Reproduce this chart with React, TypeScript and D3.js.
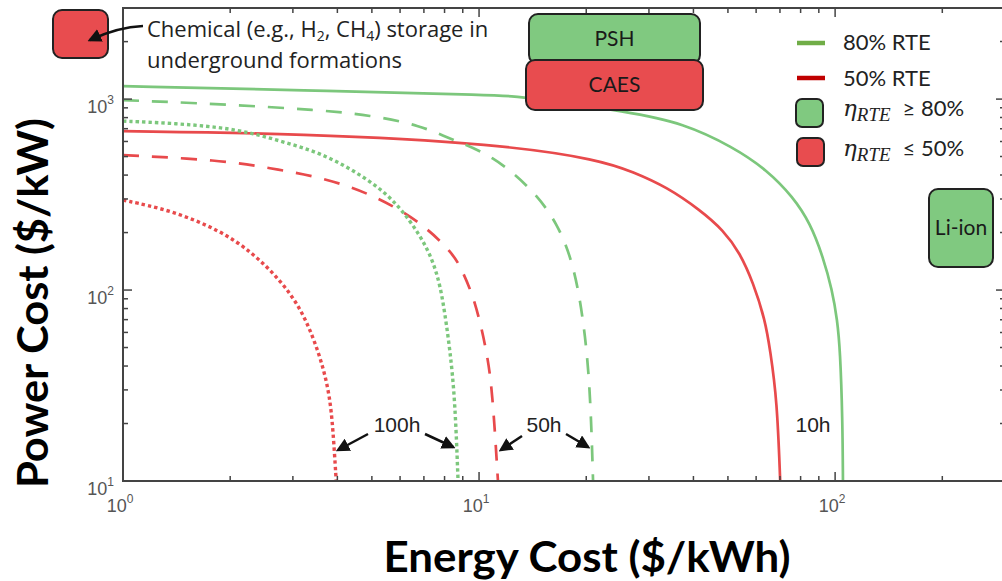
import React from 'react';
import * as d3 from 'd3';

const W = 1002;
const H = 581;
const margin = { left: 123, right: 1005, top: 8, bottom: 481 };

// axis domains (log scales)
const energyDomain = [1, 300];
const powerDomain = [10, 3000];

// 80% RTE curves: energy cost ($/kWh) vs power cost ($/kW)
const green10hE = [1, 3.14, 11.5, 13.6, 26.5, 37.4, 51.7, 64.4, 76.2, 85.1, 92.5, 98.1, 101.4, 103.3, 104.9, 105.2];
const green10hP = [1169, 1114, 1050, 1024, 855, 748, 561, 425, 307, 224, 149, 100, 69.7, 48.5, 20.9, 10];
const green50hE = [1, 1.87, 3.58, 4.94, 6.82, 8.45, 10.9, 14.2, 16.6, 18.4, 19.6, 20.5, 20.9];
const green50hP = [988, 942, 876, 824, 731, 610, 509, 334, 224, 138, 72.3, 32.6, 10];
const green100hE = [1, 1.36, 1.87, 2.32, 2.89, 3.58, 4.43, 5.52, 6.4, 7.14, 7.62, 7.92, 8.29, 8.56, 8.73];
const green100hP = [767, 749, 713, 663, 589, 522, 425, 322, 232, 168, 123, 88.7, 48.5, 26.5, 10];

// 50% RTE curves
const red10hE = [1, 3.14, 11.5, 21.9, 27.1, 33.7, 41.8, 48.5, 54.1, 58.9, 63.6, 65.7, 68.7, 70.1];
const red10hP = [679, 660, 582, 480, 415, 346, 262, 206, 156, 109, 69.7, 48.5, 26.5, 10];
const red50hE = [1, 1.87, 2.59, 3.58, 4.94, 6.82, 8.45, 8.96, 9.74, 10.5, 10.9, 11.3];
const red50hP = [509, 480, 435, 391, 322, 230, 156, 127, 88.7, 48.5, 29.9, 10];
const red100hE = [1, 1.36, 1.87, 2.32, 2.76, 3.14, 3.42, 3.65, 3.81, 3.89, 3.97];
const red100hP = [296, 262, 206, 156, 113, 81.4, 56.7, 39.5, 27.5, 18.5, 10];

const durationLabels = ['100h', '50h', '10h'];
const legendLabels = ['80% RTE', '50% RTE'];

const GREEN = '#7cc77c';
const RED = '#e84a4c';
const BOX_GREEN = '#80c980';
const BOX_RED = '#e84c4f';
const SANS = '"Liberation Sans", Arial, sans-serif';
const TITLE = 'Lato, "Open Sans", sans-serif';
const NOTE = '"Open Sans", Lato, sans-serif';

const zip = (e: number[], p: number[]) => e.map((v, i) => [v, p[i]] as [number, number]);

const DOT = '3.4 3';
const DASH = '16 13';
const series = [
  { pts: zip(green10hE, green10hP), color: GREEN, dash: null },
  { pts: zip(red10hE, red10hP), color: RED, dash: null },
  { pts: zip(green50hE, green50hP), color: GREEN, dash: DASH },
  { pts: zip(red50hE, red50hP), color: RED, dash: DASH },
  { pts: zip(green100hE, green100hP), color: GREEN, dash: DOT },
  { pts: zip(red100hE, red100hP), color: RED, dash: DOT },
];

function Box({ x, y, w, h, fill, label }: any) {
  return (
    <g>
      <rect x={x} y={y} width={w} height={h} rx={9} fill={fill} stroke="#222" strokeWidth={2} />
      {label && (
        <text x={x + w / 2} y={y + h / 2 + 7} textAnchor="middle" fontFamily={TITLE} fontSize={21} fill="#1a1a1a">
          {label}
        </text>
      )}
    </g>
  );
}

export default function App() {
  const x = d3.scaleLog().domain(energyDomain).range([margin.left, margin.right]);
  const y = d3.scaleLog().domain(powerDomain).range([margin.bottom, margin.top]);

  const line = d3
    .line<[number, number]>()
    .x((d) => x(d[0]))
    .y((d) => y(d[1]))
    .curve(d3.curveBasis);

  const isMajor = (v: number) => Math.abs(Math.log10(v) - Math.round(Math.log10(v))) < 1e-6;
  const xTicks = x.ticks().filter((v) => v > energyDomain[0] && v < energyDomain[1]);
  const yTicks = y.ticks().filter((v) => v > powerDomain[0] && v < powerDomain[1]);
  const xMajors = [1, 10, 100];
  const yMajors = [10, 100, 1000];

  const lastX = (arr: number[]) => x(arr[arr.length - 1]);

  return (
    <svg width={W} height={H} style={{ position: 'absolute', left: 0, top: 0, background: '#fff' }}>
      <defs>
        <clipPath id="plotclip">
          <rect x={margin.left} y={margin.top} width={margin.right - margin.left} height={margin.bottom - margin.top} />
        </clipPath>
        <marker id="arr" viewBox="0 0 10 10" refX={8} refY={5} markerWidth={5.5} markerHeight={5.5} orient="auto">
          <path d="M0,0 L10,5 L0,10 z" fill="#111" />
        </marker>
      </defs>
      <rect x={0} y={0} width={W} height={H} fill="#fff" />

      {/* curves */}
      <g clipPath="url(#plotclip)">
        {series.map((s, i) => (
          <path
            key={i}
            d={line(s.pts) || ''}
            fill="none"
            stroke={s.color}
            strokeWidth={s.dash === DOT ? 3.4 : 2.7}
            strokeDasharray={s.dash || undefined}
          />
        ))}
      </g>

      {/* frame and ticks */}
      <g stroke="#444" strokeWidth={1.5}>
        {xTicks.map((v, i) => {
          const len = isMajor(v) ? 9 : 5;
          return (
            <g key={'xt' + i}>
              <line x1={x(v)} x2={x(v)} y1={margin.bottom} y2={margin.bottom - len} />
              <line x1={x(v)} x2={x(v)} y1={margin.top} y2={margin.top + len} />
            </g>
          );
        })}
        {yTicks.map((v, i) => {
          const len = isMajor(v) ? 9 : 5;
          return (
            <g key={'yt' + i}>
              <line x1={margin.left} x2={margin.left + len} y1={y(v)} y2={y(v)} />
              <line x1={margin.right} x2={margin.right - len} y1={y(v)} y2={y(v)} />
            </g>
          );
        })}
      </g>
      <rect
        x={margin.left}
        y={margin.top}
        width={margin.right - margin.left}
        height={margin.bottom - margin.top}
        fill="none"
        stroke="#444"
        strokeWidth={2}
      />

      {/* tick labels */}
      <g fontFamily={SANS} fill="#555">
        {xMajors.map((v) => (
          <text key={'xl' + v} x={x(v) - 3} y={margin.bottom + 31} textAnchor="middle" fontSize={18}>
            10
            <tspan fontSize={12} dy={-9}>{Math.round(Math.log10(v))}</tspan>
          </text>
        ))}
        {yMajors.map((v) => (
          <text key={'yl' + v} x={114} y={y(v) + 14} textAnchor="end" fontSize={18}>
            10
            <tspan fontSize={12} dy={-9}>{Math.round(Math.log10(v))}</tspan>
          </text>
        ))}
      </g>

      {/* axis titles */}
      <text x={587} y={572} textAnchor="middle" fontFamily={TITLE} fontWeight="bold" fontSize={42} textLength={407} lengthAdjust="spacingAndGlyphs" fill="#000">
        Energy Cost ($/kWh)
      </text>
      <text
        transform="translate(48,303) rotate(-90)"
        textAnchor="middle"
        fontFamily={TITLE}
        fontWeight="bold"
        fontSize={42}
        textLength={370}
        lengthAdjust="spacingAndGlyphs"
        fill="#000"
      >
        Power Cost ($/kW)
      </text>

      {/* technology boxes */}
      <Box x={529} y={14} w={171} h={50} fill={BOX_GREEN} label="PSH" />
      <Box x={526} y={60} w={177} h={50} fill={BOX_RED} label="CAES" />
      <Box x={929} y={189} w={64} h={78} fill={BOX_GREEN} label="Li-ion" />
      <Box x={53} y={10} w={55} h={48} fill={BOX_RED} label="" />

      {/* chemical storage note */}
      <path d="M143,26 Q118,27 90,40" fill="none" stroke="#111" strokeWidth={2.5} markerEnd="url(#arr)" />
      <g fontFamily={NOTE} fontSize={22} fill="#222">
        <text x={147} y={37}>
          Chemical (e.g., H
          <tspan fontSize={14} dy={4}>2</tspan>
          <tspan dy={-4}>, CH</tspan>
          <tspan fontSize={14} dy={4}>4</tspan>
          <tspan dy={-4}>) storage in</tspan>
        </text>
        <text x={147} y={68}>underground formations</text>
      </g>

      {/* legend */}
      <g fontFamily={TITLE} fontSize={22} fill="#222">
        <line x1={797} x2={825} y1={43} y2={43} stroke="#70ad47" strokeWidth={4.5} />
        <text x={843} y={50}>{legendLabels[0]}</text>
        <line x1={797} x2={825} y1={78} y2={78} stroke="#c00000" strokeWidth={4.5} />
        <text x={843} y={86}>{legendLabels[1]}</text>
        <rect x={796} y={99} width={27} height={28} rx={6} fill={BOX_GREEN} stroke="#222" strokeWidth={2} />
        <rect x={797} y={138} width={27} height={28} rx={6} fill={BOX_RED} stroke="#222" strokeWidth={2} />
        <text x={843} y={116}>
          <tspan fontFamily='"DejaVu Serif", serif' fontStyle="italic" fontSize={23}>η</tspan>
          <tspan fontFamily='"Liberation Serif", serif' fontStyle="italic" fontSize={19} dy={5}>RTE</tspan>
          <tspan dy={-5} dx={12}>≥ 80%</tspan>
        </text>
        <text x={843} y={156}>
          <tspan fontFamily='"DejaVu Serif", serif' fontStyle="italic" fontSize={23}>η</tspan>
          <tspan fontFamily='"Liberation Serif", serif' fontStyle="italic" fontSize={19} dy={5}>RTE</tspan>
          <tspan dy={-5} dx={12}>≤  50%</tspan>
        </text>
      </g>

      {/* duration annotations */}
      <g fontFamily={SANS} fontSize={21} fill="#222">
        <text x={397} y={432} textAnchor="middle">{durationLabels[0]}</text>
        <text x={544} y={432} textAnchor="middle">{durationLabels[1]}</text>
        <text x={813} y={432} textAnchor="middle">{durationLabels[2]}</text>
      </g>
      <g stroke="#111" strokeWidth={2.5} fill="none">
        <line x1={368} y1={434} x2={lastX(red100hE) + 2} y2={450} markerEnd="url(#arr)" />
        <line x1={425} y1={434} x2={lastX(green100hE) - 5} y2={447} markerEnd="url(#arr)" />
        <line x1={522} y1={436} x2={lastX(red50hE) + 3} y2={450} markerEnd="url(#arr)" />
        <line x1={566} y1={434} x2={lastX(green50hE) - 5} y2={447} markerEnd="url(#arr)" />
      </g>
    </svg>
  );
}
